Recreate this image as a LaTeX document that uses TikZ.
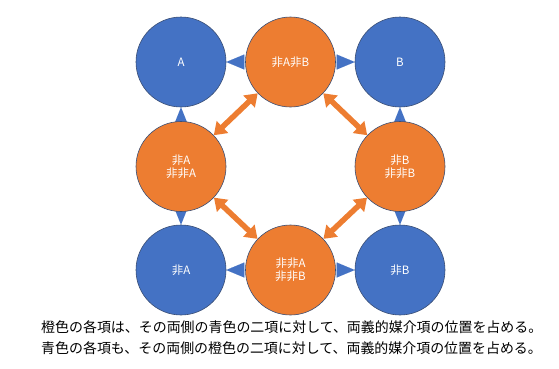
\documentclass[tikz,border=0pt]{standalone}
\usepackage{fontspec}
\setmainfont{Noto Sans CJK JP}
\usetikzlibrary{arrows.meta,backgrounds}
\definecolor{pblue}{HTML}{4472C4}
\definecolor{porange}{HTML}{ED7D31}
\definecolor{pedge}{HTML}{3A4E74}
\tikzset{
  circ/.style={circle, minimum size=90pt, inner sep=0pt, draw=pedge, line width=0.6pt,
    text=white, font=\fontsize{11.5}{13.3}\selectfont, align=center},
  bnode/.style={circ, fill=pblue},
  onode/.style={circ, fill=porange},
  htri/.style={pblue, line width=0.01pt, -{Triangle[width=15pt,length=18pt]}},
  vtri/.style={pblue, line width=0.01pt, -{Triangle[width=12pt,length=15pt]}},
  dbl/.style={porange, line width=5.5pt, {Triangle[width=16pt,length=12pt]}-{Triangle[width=16pt,length=12pt]}},
  caption/.style={anchor=west, inner sep=0pt, font=\fontsize{13.95}{16}\selectfont, text=black}
}
\begin{document}
\begin{tikzpicture}[x=1pt,y=-1pt]
\useasboundingbox (0,0) rectangle (559,368);
\node[bnode] (A)   at (181,62)  {A};
\node[onode] (nAnB) at (290.5,62) {非A非B};
\node[bnode] (B)   at (400,62)  {B};
\node[onode] (nA)  at (181,166.5) {非A\\非非A};
\node[onode] (nB)  at (400,166.5) {非B\\非非B};
\node[bnode] (nA2) at (181,270) {非A};
\node[onode] (nnAnnB) at (290.5,270) {非非A\\非非B};
\node[bnode] (nB2) at (400,270) {非B};
\begin{pgfonlayer}{background}
\draw[htri] (nAnB.west) -- (A.east);
\draw[htri] (nAnB.east) -- (B.west);
\draw[htri] (nnAnnB.west) -- (nA2.east);
\draw[htri] (nnAnnB.east) -- (nB2.west);
\draw[vtri] (nA.north) -- (A.south);
\draw[vtri] (nA.south) -- (nA2.north);
\draw[vtri] (nB.north) -- (B.south);
\draw[vtri] (nB.south) -- (nB2.north);
\end{pgfonlayer}
\draw[dbl] (nAnB) -- (nA);
\draw[dbl] (nAnB) -- (nB);
\draw[dbl] (nnAnnB) -- (nA);
\draw[dbl] (nnAnnB) -- (nB);
\node[caption] (c1) at (41,327) {橙色の各項は、その両側の青色の二項に対して、両義的媒介項の位置を占める。};
\node[caption] (c2) at (41,348) {青色の各項も、その両側の橙色の二項に対して、両義的媒介項の位置を占める。};
\end{tikzpicture}
\end{document}
